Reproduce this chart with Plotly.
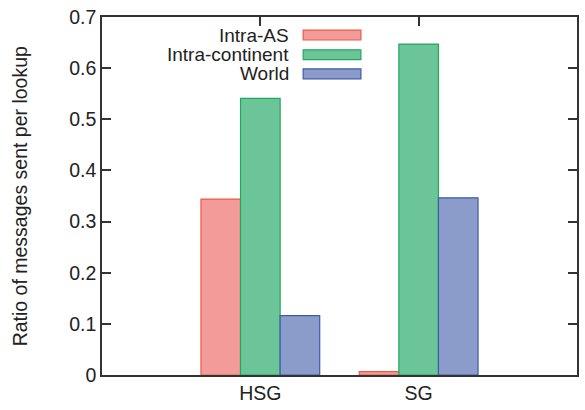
import plotly.graph_objects as go

categories = ["HSG", "SG"]
cat_pos = [0, 1]
series_names = ["Intra-AS", "Intra-continent", "World"]
intra_as = [0.344, 0.0065]
intra_continent = [0.541, 0.647]
world = [0.116, 0.3465]
y_ticks = [0, 0.1, 0.2, 0.3, 0.4, 0.5, 0.6, 0.7]

fills = ["#F29B98", "#6CC598", "#8C9CCA"]
edges = ["#EE5A45", "#22A85C", "#3B5BA9"]

W, H = 585, 410
L, R, T, B = 102, 6, 14, 33
pw, ph = W - L - R, H - T - B

fig = go.Figure()
for name, vals, fc, ec in zip(series_names, [intra_as, intra_continent, world], fills, edges):
    fig.add_trace(go.Bar(x=cat_pos, y=vals, name=name, marker=dict(color=fc, line=dict(color=ec, width=1.2)),
                         showlegend=False))

# dummy trace for top axis ticks
fig.add_trace(go.Scatter(x=[None], y=[None], xaxis="x2", showlegend=False, hoverinfo="skip"))

font = dict(family="Liberation Sans, Arial, Helvetica, sans-serif", size=19.5, color="#222222")
legfont = dict(family="Liberation Sans, Arial, Helvetica, sans-serif", size=19, color="#222222")
axcol = "#333333"

fig.update_layout(
    width=W, height=H, margin=dict(l=L, r=R, t=T, b=B),
    paper_bgcolor="white", plot_bgcolor="white",
    barmode="group", bargap=0.25, bargroupgap=0,
    font=font, showlegend=False,
    xaxis=dict(range=[-1, 2], tickvals=cat_pos, ticktext=categories, ticks="", showgrid=False,
               zeroline=False, showline=True, linecolor=axcol, linewidth=1.5, mirror=True,
               tickfont=font),
    xaxis2=dict(range=[-1, 2], overlaying="x", side="top", tickvals=cat_pos, ticks="inside",
                ticklen=9, tickwidth=1.5, tickcolor=axcol, showticklabels=False, showgrid=False,
                zeroline=False, showline=False),
    yaxis=dict(range=[0, 0.7], tickvals=y_ticks, ticktext=["0", "0.1", "0.2", "0.3", "0.4", "0.5", "0.6", "0.7"],
               ticks="inside", ticklen=9, tickwidth=1.5, tickcolor=axcol, showgrid=False, zeroline=False,
               showline=True, linecolor=axcol, linewidth=1.5, mirror="ticks", tickfont=font),
)

# y-axis title
fig.add_annotation(text="Ratio of messages sent per lookup", xref="paper", yref="paper",
                   x=(20 - L) / pw, y=0.5, xanchor="center", yanchor="middle", textangle=-90,
                   showarrow=False, font=font)

# manual legend (text left of swatch, gnuplot style)
rows_px = [32.3, 52.3, 71.7]
for name, fc, ec, ypx in zip(series_names, fills, edges, rows_px):
    yp = (H - B - ypx) / ph
    fig.add_annotation(text=name, xref="paper", yref="paper", x=(291 - L) / pw, y=yp,
                       xanchor="right", yanchor="middle", showarrow=False, font=legfont, borderpad=0)
    fig.add_shape(type="rect", xref="paper", yref="paper",
                  x0=(304 - L) / pw, x1=(362 - L) / pw, y0=yp - 5 / ph, y1=yp + 5 / ph,
                  fillcolor=fc, line=dict(color=ec, width=1.2))

fig.write_html("out.html", config={"displayModeBar": False},
               post_script="document.body.style.margin='0';document.body.style.padding='0';")
